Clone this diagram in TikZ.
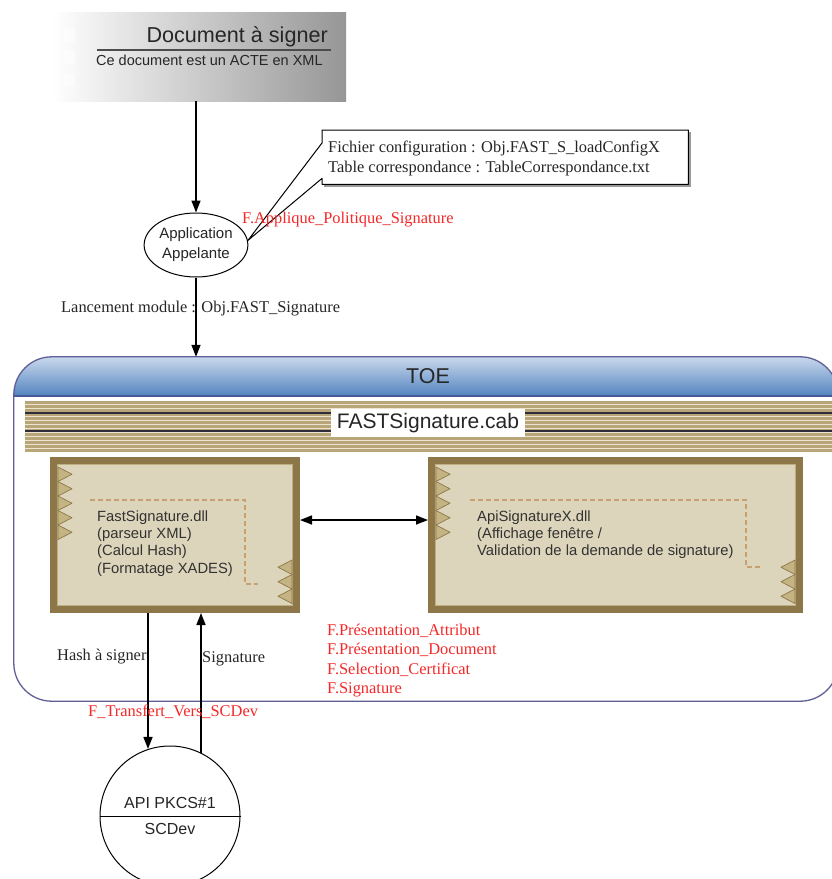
\documentclass[tikz,border=0pt]{standalone}
\usepackage{fontspec}
\setmainfont{Liberation Serif}
\setsansfont{Liberation Sans}
\usetikzlibrary{arrows.meta,shapes.geometric,calc}
\definecolor{docgray}{RGB}{150,150,150}
\definecolor{toeborder}{RGB}{95,95,150}
\definecolor{hdrtop}{RGB}{200,216,236}
\definecolor{hdrbot}{RGB}{84,132,192}
\definecolor{hdrline}{RGB}{70,90,150}
\definecolor{cabtan}{RGB}{184,165,120}
\definecolor{cabcream}{RGB}{236,229,210}
\definecolor{cabdark}{RGB}{45,45,60}
\definecolor{boxbrown}{RGB}{141,119,72}
\definecolor{boxlight}{RGB}{190,175,130}
\definecolor{boxfill}{RGB}{221,213,187}
\definecolor{trifill}{RGB}{196,180,132}
\definecolor{dashbrown}{RGB}{200,160,112}
\definecolor{redtxt}{RGB}{245,40,40}
\definecolor{dlltext}{RGB}{50,50,50}
\begin{document}
\begin{tikzpicture}[x=1pt,y=-1pt,
  seriflbl/.style={font=\fontsize{16.4}{19.5}\selectfont, inner sep=0, text=black!85},
  redlbl/.style={font=\fontsize{16.4}{19.5}\selectfont, inner sep=0, text=redtxt},
  dlltxt/.style={font=\sffamily\fontsize{14.8}{17.3}\selectfont, inner sep=0, text=dlltext, align=left},
  conn/.style={line width=1.5pt, -{Triangle[length=12pt,width=9pt]}},
  dconn/.style={line width=1.5pt, {Triangle[length=12pt,width=9pt]}-{Triangle[length=12pt,width=9pt]}},
  dllbox/.style={draw=boxbrown, line width=7pt, fill=boxfill, inner sep=0, minimum height=149pt},
  tri/.style={fill=trifill, draw=boxbrown, line width=0.7pt, line join=round},
  dashline/.style={draw=dashbrown, line width=1.3pt, dash pattern=on 5pt off 3pt}
]
\useasboundingbox (0,0) rectangle (832,879);
\clip (0,0) rectangle (832,879);
\fill[white] (0,0) rectangle (832,879);

% ---------- Document box ----------
\node[anchor=north west, inner sep=0, minimum width=294pt, minimum height=89pt,
      left color=white, right color=docgray] (doc) at (52,12) {};
\foreach \yy in {28,50,73}
  \fill[white, opacity=0.5, rounded corners=2pt] (64,\yy) rectangle (75,{\yy+14});
\node[font=\sffamily\fontsize{21.6}{24}\selectfont, text=black!85, anchor=base east, inner sep=0] (doctitle) at (328,42) {Document à signer};
\draw[line width=1.4pt, black!70] (97,50) -- (331,50);
\node[font=\sffamily\fontsize{14.5}{17}\selectfont, text=black!85, anchor=base west, inner sep=0] (docsub) at (96,65) {Ce document est un ACTE en XML};

% ---------- Application ----------
\node[ellipse, draw, line width=1pt, minimum width=98pt, minimum height=64pt, inner sep=0,
      font=\sffamily\fontsize{15}{20}\selectfont, align=center, text=black!85] (app) at (196,245) {Application\\Appelante};
\draw[conn] (app.north |- doc.south) -- (app.north);

% ---------- Callout ----------
\node[anchor=north west, inner sep=0, minimum width=366pt, minimum height=54pt] (cfg) at (322,130) {};
\draw[black!40, line width=1.5pt] ($(cfg.north east)+(1.5,2)$) -- ($(cfg.south east)+(1.5,1.5)$) -- ($(cfg.south west)+(2,1.5)$);
\draw[fill=white, line width=1pt, line join=round]
  (cfg.north west) -- (cfg.north east) -- (cfg.south east) -- (cfg.south west)
  -- ($(cfg.south west)+(0,-6)$) -- (app.5) -- ($(cfg.north west)+(0,13)$) -- cycle;
\node[seriflbl, anchor=base west] (cfg1) at (328,152.5) {Fichier configuration : Obj.FAST\_S\_loadConfigX};
\node[seriflbl, anchor=base west] (cfg2) at (328,172.5) {Table correspondance : TableCorrespondance.txt};
\node[redlbl, anchor=base west] (fap) at (242,223.5) {F.Applique\_Politique\_Signature};

% ---------- TOE ----------
\node[inner sep=0, minimum width=824pt, minimum height=344pt] (toe) at (426,529) {};
\fill[white, rounded corners=38pt] (toe.north west) rectangle (toe.south east);
\begin{scope}
  \clip[rounded corners=38pt] (toe.north west) rectangle (toe.south east);
  \shade[top color=hdrtop, bottom color=hdrbot] (toe.north west) rectangle ($(toe.north east)+(0,39)$);
\end{scope}
\draw[hdrline, line width=1.5pt] ($(toe.north west)+(0,39)$) -- ($(toe.north east)+(0,39)$);
\draw[toeborder, line width=1.3pt, rounded corners=38pt] (toe.north west) rectangle (toe.south east);
\node[font=\sffamily\fontsize{21.4}{24}\selectfont, text=black!85, inner sep=0] (toetitle) at (428,376) {TOE};

\node[seriflbl, anchor=base west] (lanc) at (61,312) {Lancement module : Obj.FAST\_Signature};
\draw[conn] (app.south) -- (app.south |- toe.north);

% ---------- cab band ----------
\fill[cabcream] (25,401) rectangle (840,452);
\foreach \yy in {401,405,...,449}
  \fill[cabtan] (25,\yy) rectangle (840,{\yy+2.6});
\draw[cabdark, line width=1.3pt] (25,413) -- (840,413);
\draw[cabdark, line width=1.3pt] (25,431) -- (840,431);
\node[fill=white, inner xsep=6pt, inner ysep=4pt, font=\sffamily\fontsize{21}{24}\selectfont, text=black!85] (cab) at (428,423) {FASTSignature.cab};

% ---------- DLL boxes ----------
\node[dllbox, minimum width=243pt] (box1) at (175,535) {};
\node[dllbox, minimum width=368pt] (box2) at (615.5,535) {};
\foreach \b in {box1,box2}{
  \draw[boxlight, line width=1pt] ($(\b.north west)+(7.5,7.5)$) rectangle ($(\b.south east)+(-7.5,-7.5)$);
  \foreach \i in {0,...,4}
    \filldraw[tri] ($(\b.north west)+(8,{10+14.5*\i})$) -- ($(\b.north west)+(22,{17.25+14.5*\i})$) -- ($(\b.north west)+(8,{24.5+14.5*\i})$) -- cycle;
  \foreach \i in {0,...,2}
    \filldraw[tri] ($(\b.south east)+(-8,{-53+14.5*\i})$) -- ($(\b.south east)+(-22,{-45.75+14.5*\i})$) -- ($(\b.south east)+(-8,{-38.5+14.5*\i})$) -- cycle;
}
\draw[dashline] (90,500) -- (245,500) -- (245,584) -- (258,584);
\draw[dashline] (470,500) -- (746,500) -- (746,567) -- (762,567);
\node[dlltxt, anchor=north west] (t1) at (97,510.3) {FastSignature.dll\\(parseur XML)\\(Calcul Hash)\\(Formatage XADES)};
\node[dlltxt, anchor=north west] (t2) at (477,510.3) {ApiSignatureX.dll\\(Affichage fenêtre /\\Validation de la demande de signature)};
\coordinate (mid) at (364,520);
\draw[dconn] (mid -| box1.east) -- (mid -| box2.west);

% ---------- red labels ----------
\node[redlbl, anchor=base west] (r1) at (327,635) {F.Présentation\_Attribut};
\node[redlbl, anchor=base west] (r2) at (327,654.5) {F.Présentation\_Document};
\node[redlbl, anchor=base west] (r3) at (327,674) {F.Selection\_Certificat};
\node[redlbl, anchor=base west] (r4) at (327,693.5) {F.Signature};

% ---------- PKCS circle ----------
\node[circle, draw, line width=1pt, minimum size=140pt, inner sep=0] (pk) at (170,816) {};
\draw[line width=1pt] (pk.west) -- (pk.east);
\node[font=\sffamily\fontsize{16}{18}\selectfont, text=black!85, inner sep=0] (pk1) at (170,803) {API PKCS\#1};
\node[font=\sffamily\fontsize{16}{18}\selectfont, text=black!85, inner sep=0] (pk2) at (170,829) {SCDev};

\coordinate (hx) at (148,700);
\coordinate (sx) at (201,700);
\draw[conn] (hx |- box1.south) -- (hx |- pk.108.3);
\draw[conn] (sx |- pk.63.7) -- (sx |- box1.south);
\node[seriflbl, anchor=base west] (hash) at (57,660) {Hash à signer};
\node[seriflbl, anchor=base west] (sig) at (202,662) {Signature};
\node[redlbl, anchor=base west] (ftr) at (88,716) {F\_Transfert\_Vers\_SCDev};
\end{tikzpicture}
\end{document}
